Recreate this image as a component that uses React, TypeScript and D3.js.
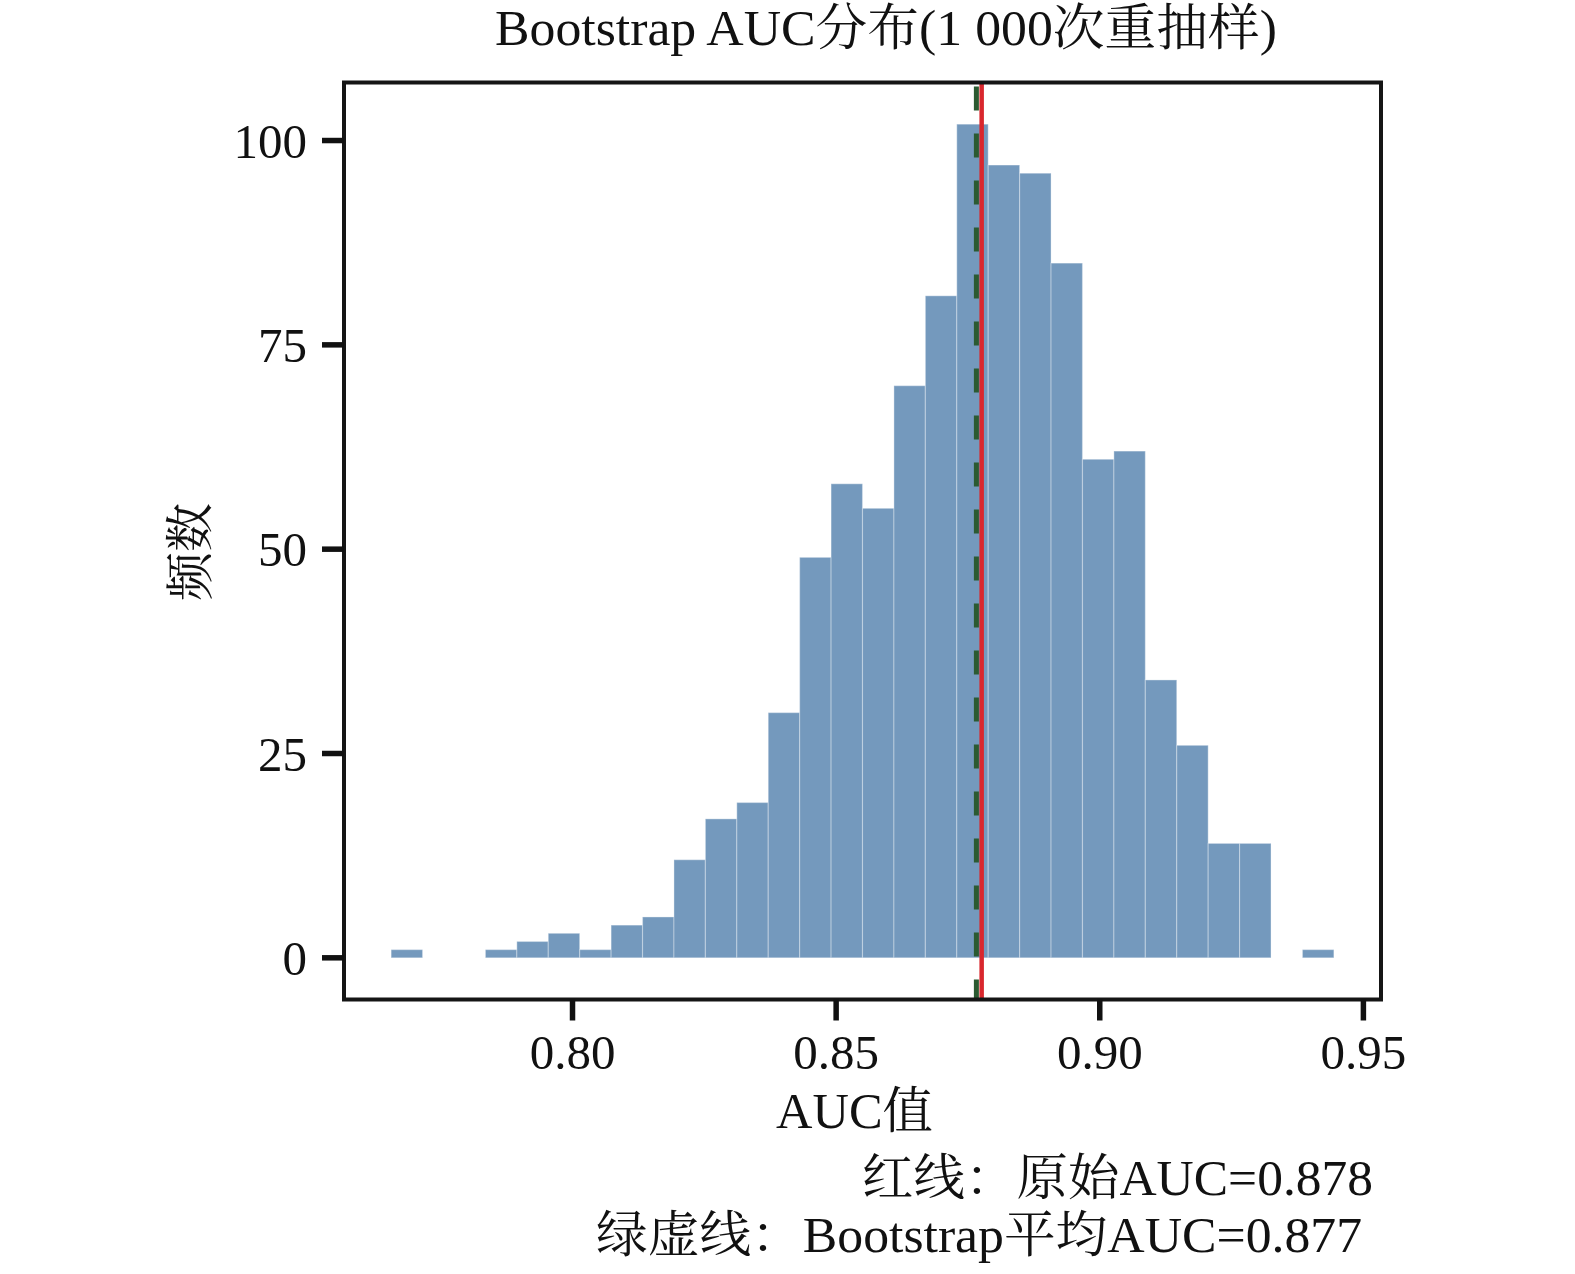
import * as d3 from "d3";
import React from "react";

// histogram of 1000 bootstrap AUC values, 30 equal bins
const binStart = 0.7656;
const binEnd = 0.9444;
const counts = [1, 0, 0, 1, 2, 3, 1, 4, 5, 12, 17, 19, 30, 49, 58, 55, 70, 81, 102, 97, 96, 85, 61, 62, 34, 26, 14, 14, 0, 1];
const originalAUC = 0.8776;
const meanAUC = 0.8766;
const xTicks = [0.8, 0.85, 0.9, 0.95];
const yTicks = [0, 25, 50, 75, 100];

const titleText = "Bootstrap AUC分布(1 000次重抽样)";
const xLabel = "AUC值";
const yLabel = "频数";
const note1 = "红线：原始AUC=0.878";
const note2 = "绿虚线：Bootstrap平均AUC=0.877";

const W = 1575;
const H = 1274;
const frame = { left: 344, right: 1381, top: 82.5, bottom: 999.5 };
const font = "'Liberation Serif', 'Times New Roman', 'Noto Serif CJK SC', 'Noto Sans CJK SC', serif";

function App() {
    const binW = (binEnd - binStart) / counts.length;
    const span = binEnd - binStart;
    const x = d3.scaleLinear()
        .domain([binStart - span * 0.05, binEnd + span * 0.05])
        .range([frame.left, frame.right]);
    const yMax = d3.max(counts) || 0;
    const y = d3.scaleLinear()
        .domain([-yMax * 0.05, yMax * 1.05])
        .range([frame.bottom, frame.top]);

    const bins = counts.map((c, i) => ({ x0: binStart + i * binW, x1: binStart + (i + 1) * binW, count: c }));

    return (
        <svg width={W} height={H} style={{ position: "absolute", left: 0, top: 0, background: "#fff" }}
            fontFamily={font}>
            <text x={495} y={45} fontSize={50} textLength={782} lengthAdjust="spacingAndGlyphs" fill="#111">{titleText}</text>

            <g>
                {bins.filter(b => b.count > 0).map((b, i) => (
                    <rect key={i}
                        x={x(b.x0)} width={x(b.x1) - x(b.x0)}
                        y={y(b.count)} height={y(0) - y(b.count)}
                        fill="#7499bd" stroke="#ffffff" strokeOpacity={0.3} strokeWidth={1.2} />
                ))}
            </g>

            <line x1={x(meanAUC)} x2={x(meanAUC)} y1={frame.top} y2={frame.bottom}
                stroke="#2b5a31" strokeWidth={5} strokeDasharray="24,23" strokeDashoffset={-4} />
            <line x1={x(originalAUC)} x2={x(originalAUC)} y1={frame.top} y2={frame.bottom}
                stroke="#d9272d" strokeWidth={4.5} />

            <rect x={frame.left} y={frame.top} width={frame.right - frame.left} height={frame.bottom - frame.top}
                fill="none" stroke="#151515" strokeWidth={4} />

            <g>
                {yTicks.map(t => (
                    <g key={t}>
                        <line x1={frame.left - 22} x2={frame.left} y1={y(t)} y2={y(t)} stroke="#111" strokeWidth={5.5} />
                        <text x={307} y={y(t)} dy="0.35em" fontSize={49} textAnchor="end" fill="#111">{t}</text>
                    </g>
                ))}
            </g>
            <g>
                {xTicks.map(t => (
                    <g key={t}>
                        <line x1={x(t)} x2={x(t)} y1={frame.bottom} y2={frame.bottom + 21} stroke="#111" strokeWidth={5.5} />
                        <text x={x(t)} y={1069} fontSize={49} textAnchor="middle" fill="#111">{t.toFixed(2)}</text>
                    </g>
                ))}
            </g>

            <text x={776} y={1128} fontSize={50} textLength={157} lengthAdjust="spacingAndGlyphs" fill="#111">{xLabel}</text>
            <text transform="translate(207,552) rotate(-90)" fontSize={49} textAnchor="middle" fill="#111">{yLabel}</text>

            <text x={862} y={1195} fontSize={50} textLength={511} lengthAdjust="spacingAndGlyphs" fill="#111">{note1}</text>
            <text x={596} y={1252} fontSize={50} textLength={766} lengthAdjust="spacingAndGlyphs" fill="#111">{note2}</text>
        </svg>
    );
}

export default App;
